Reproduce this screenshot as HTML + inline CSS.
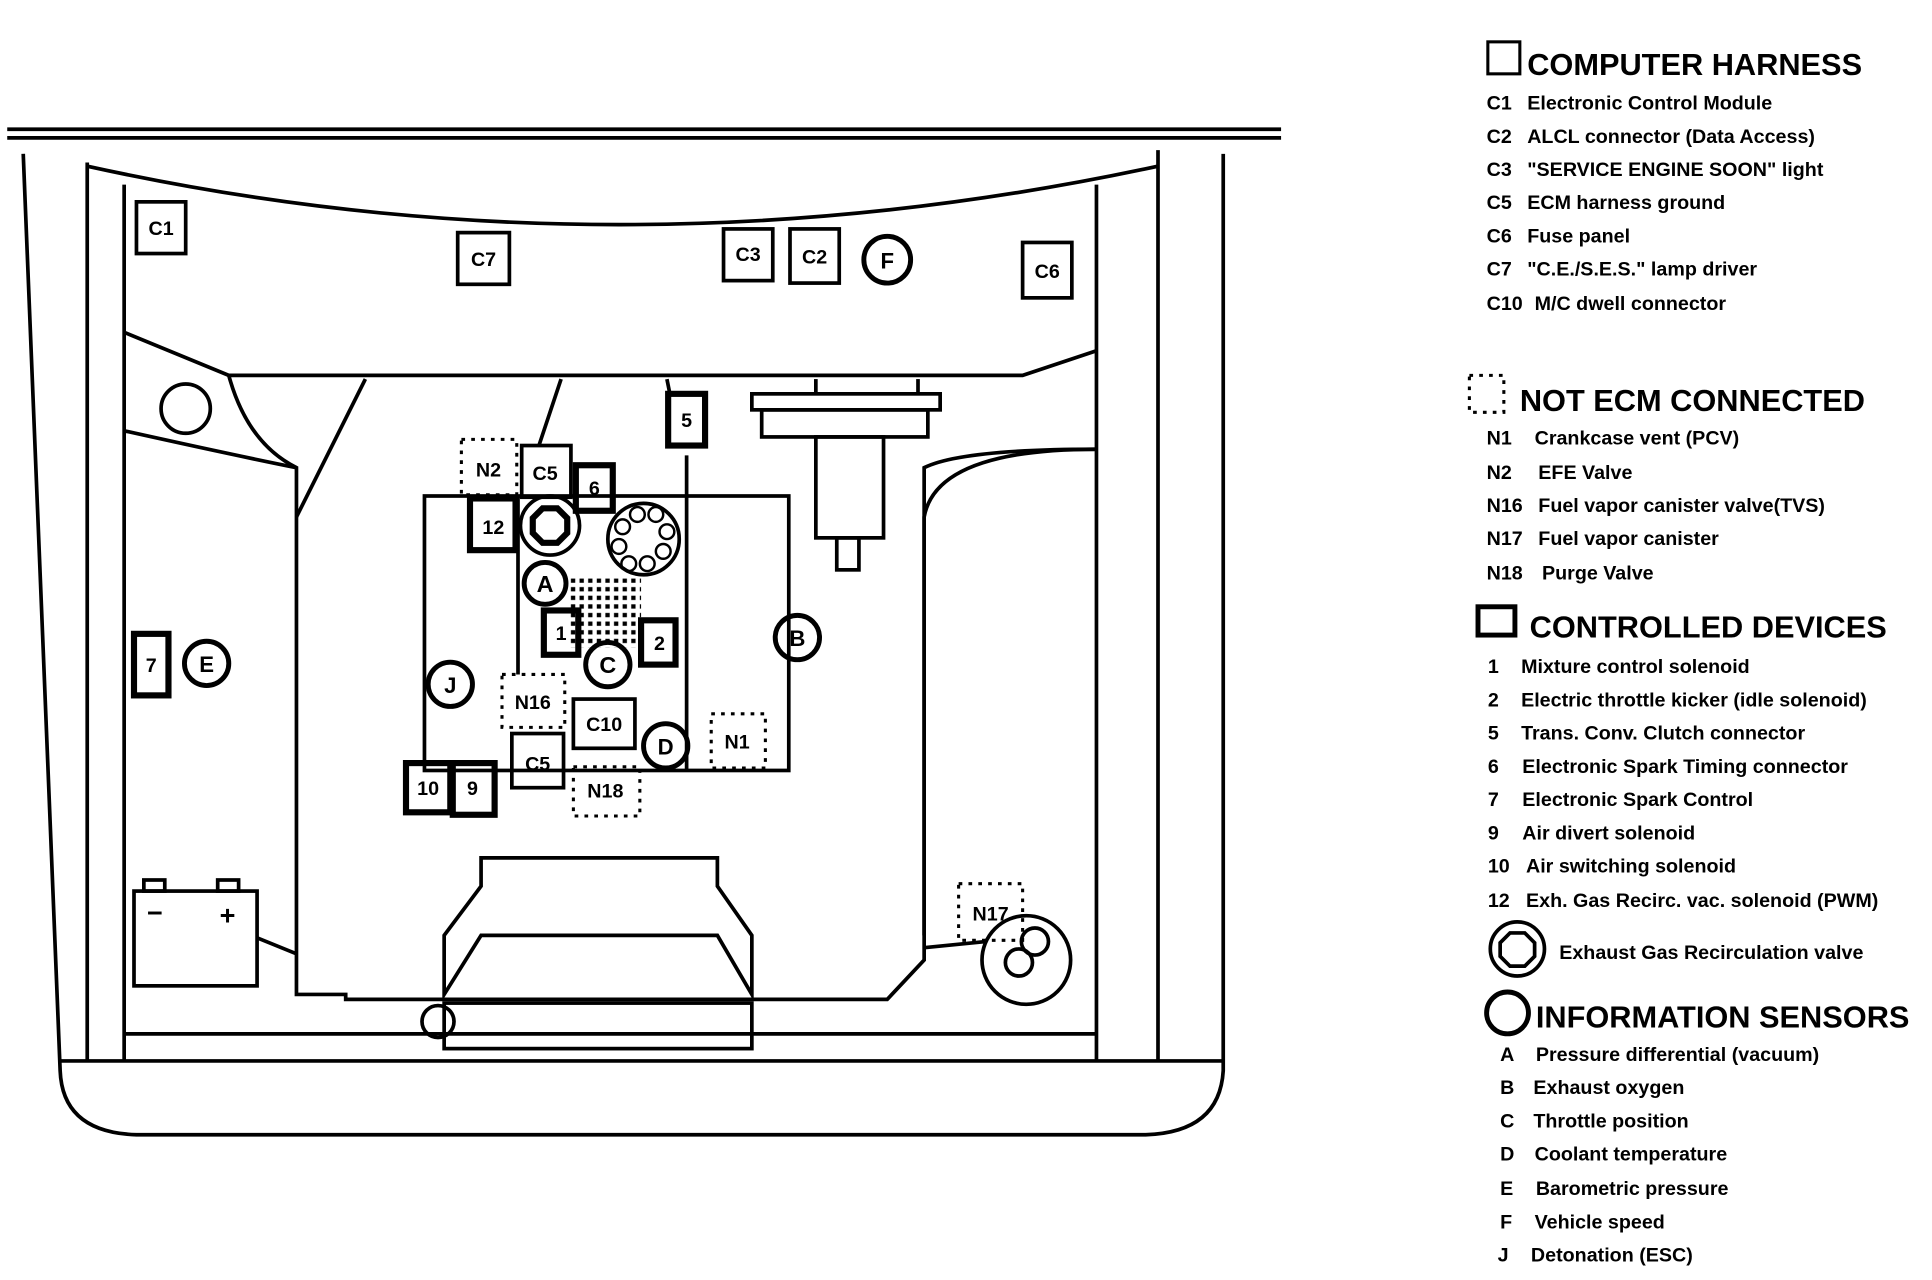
<!DOCTYPE html>
<html><head><meta charset="utf-8"><style>
html,body{margin:0;padding:0;background:#fff;}
svg{display:block;}
text{font-family:"Liberation Sans",sans-serif;font-weight:bold;fill:#000;}
</style></head><body>
<svg width="1932" height="1280" viewBox="0 0 1568 1040" xmlns="http://www.w3.org/2000/svg">
<g fill="none" stroke="#000" stroke-width="3">
<line x1="5" y1="105" x2="1040" y2="105"/>
<line x1="5" y1="112" x2="1040" y2="112"/>
<path d="M18 125 L48 870 Q50 920 110 922 L930 922 Q990 920 993 870 L993 125"/>
<line x1="48" y1="862" x2="993" y2="862"/>
<line x1="70" y1="132" x2="70" y2="862"/>
<line x1="940" y1="122" x2="940" y2="862"/>
<line x1="100" y1="150" x2="100" y2="862"/>
<line x1="890" y1="150" x2="890" y2="862"/>
<path d="M70 135 Q500 230 940 135"/>
<path d="M100 270 L185 305 L830 305 L890 285"/>
<line x1="100" y1="840" x2="890" y2="840"/>
<circle cx="150" cy="332" r="20"/>
<path d="M185 305 Q200 360 240 380 L240 808 L280 808 L280 812 L720 812 L750 780 L750 380 Q780 365 890 365"/>
<path d="M100 350 Q190 370 240 380"/>
<path d="M890 365 Q760 365 750 420 L750 760"/>
<path d="M208 762 L240 775 M750 770 L800 765"/>
<line x1="296" y1="308" x2="240" y2="420"/>
<line x1="455" y1="308" x2="437" y2="362"/>
<rect x="344" y="403" width="296" height="223"/>
<line x1="420" y1="403" x2="420" y2="548"/>
<line x1="557" y1="370" x2="557" y2="626"/>
<line x1="541" y1="308" x2="543" y2="318"/>
<rect x="610" y="320" width="153" height="13"/>
<rect x="618" y="333" width="135" height="22"/>
<line x1="662" y1="308" x2="662" y2="320"/><line x1="745" y1="308" x2="745" y2="320"/>
<rect x="662" y="355" width="55" height="82"/>
<rect x="679" y="437" width="18" height="26"/>
<path d="M390 697 L582 697 L582 720 L610 760 L610 808 L582 760 L390 760 L360 808 L360 760 L390 720 Z M360 760 L390 720 M582 720 L610 760"/>
<rect x="360" y="815" width="250" height="37"/>
<circle cx="355" cy="830" r="13"/>
<circle cx="833" cy="780" r="36"/>
<circle cx="827" cy="782" r="11"/><circle cx="840" cy="765" r="11"/>
<rect x="108" y="724" width="100" height="77"/>
<rect x="116" y="715" width="17" height="9"/><rect x="176" y="715" width="17" height="9"/>
<circle cx="446" cy="427" r="24"/>
<polygon points="440,413 452,413 460,421 460,433 452,441 440,441 432,433 432,421" stroke-width="5"/>
<circle cx="522" cy="438" r="29"/>
</g>
<g fill="none" stroke="#000" stroke-width="2">
<circle cx="517" cy="418" r="6"/><circle cx="532" cy="418" r="6"/><circle cx="541" cy="432" r="6"/><circle cx="538" cy="448" r="6"/><circle cx="525" cy="458" r="6"/><circle cx="510" cy="458" r="6"/><circle cx="502" cy="444" r="6"/><circle cx="505" cy="428" r="6"/>
</g>
<g fill="none" stroke="#000" stroke-width="3">
<rect x="110" y="164" width="40" height="42"/>
<rect x="371" y="189" width="42" height="42"/>
<rect x="587" y="186" width="40" height="42"/>
<rect x="641" y="186" width="40" height="44"/>
<rect x="830" y="197" width="40" height="45"/>
<rect x="423" y="362" width="40" height="42"/>
<rect x="465" y="568" width="50" height="40"/>
<rect x="415" y="596" width="42" height="44"/>
</g>
<g fill="none" stroke="#000" stroke-width="5">
<rect x="542" y="320" width="30" height="42"/>
<rect x="467" y="378" width="30" height="37"/>
<rect x="381" y="405" width="37" height="42"/>
<rect x="441" y="496" width="28" height="36"/>
<rect x="520" y="504" width="28" height="36"/>
<rect x="108" y="515" width="28" height="50"/>
<rect x="329" y="620" width="36" height="40"/>
<rect x="367" y="620" width="34" height="42"/>
<circle cx="720" cy="211" r="19" stroke-width="4"/>
<circle cx="442" cy="474" r="17" stroke-width="4"/>
<circle cx="493" cy="540" r="18" stroke-width="4"/>
<circle cx="540" cy="606" r="18" stroke-width="4"/>
<circle cx="647" cy="518" r="18" stroke-width="4"/>
<circle cx="365" cy="556" r="18" stroke-width="4"/>
<circle cx="167" cy="539" r="18" stroke-width="4"/>
</g>
<g fill="none" stroke="#000" stroke-width="2.5" stroke-dasharray="3,5">
<rect x="374" y="357" width="45" height="45"/>
<rect x="407" y="548" width="51" height="43"/>
<rect x="577" y="580" width="44" height="44"/>
<rect x="465" y="623" width="54" height="40"/>
<rect x="778" y="718" width="52" height="46"/>
<rect x="1193" y="305" width="28" height="30"/>
</g>
<g fill="#000">
<pattern id="dp" width="7" height="7" patternUnits="userSpaceOnUse"><rect x="1" y="1" width="3.5" height="3.5"/></pattern>
<rect x="460" y="470" width="60" height="56" fill="url(#dp)"/>
</g>
<g font-size="16" text-anchor="middle">
<text x="130" y="191">C1</text><text x="392" y="216">C7</text><text x="607" y="212">C3</text><text x="661" y="214">C2</text><text x="850" y="226">C6</text>
<text x="720" y="218" font-size="18">F</text>
<text x="557" y="347">5</text><text x="396" y="387">N2</text><text x="442" y="390">C5</text><text x="482" y="402">6</text>
<text x="400" y="434">12</text><text x="442" y="481" font-size="19">A</text><text x="455" y="520">1</text><text x="535" y="528">2</text>
<text x="493" y="547" font-size="19">C</text><text x="647" y="525" font-size="18">B</text><text x="365" y="563" font-size="18">J</text>
<text x="432" y="576">N16</text><text x="490" y="594">C10</text><text x="540" y="613" font-size="18">D</text><text x="598" y="608">N1</text>
<text x="436" y="626">C5</text><text x="491" y="648">N18</text><text x="347" y="646">10</text><text x="383" y="646">9</text>
<text x="122" y="546">7</text><text x="167" y="546" font-size="18">E</text><text x="804" y="748">N17</text>
<text x="125" y="749" font-size="22">−</text><text x="184" y="751" font-size="22">+</text>
</g>
<rect x="1208" y="34" width="26" height="26" fill="none" stroke="#000" stroke-width="2.5"/>
<rect x="1200" y="493" width="30" height="23" fill="none" stroke="#000" stroke-width="4"/>
<circle cx="1232" cy="771" r="22" fill="none" stroke="#000" stroke-width="3"/>
<polygon points="1226,758 1238,758 1246,766 1246,777 1238,785 1226,785 1218,777 1218,766" fill="none" stroke="#000" stroke-width="3"/>
<circle cx="1224" cy="823" r="17" fill="none" stroke="#000" stroke-width="4"/>
<g font-size="25">
<text x="1240" y="61">COMPUTER HARNESS</text>
<text x="1234" y="334">NOT ECM CONNECTED</text>
<text x="1242" y="518">CONTROLLED DEVICES</text>
<text x="1247" y="835">INFORMATION SENSORS</text>
</g>
<g font-size="16">
<text x="1207" y="89">C1</text><text x="1240" y="89">Electronic Control Module</text>
<text x="1207" y="116">C2</text><text x="1240" y="116">ALCL connector (Data Access)</text>
<text x="1207" y="143">C3</text><text x="1240" y="143">"SERVICE ENGINE SOON" light</text>
<text x="1207" y="170">C5</text><text x="1240" y="170">ECM harness ground</text>
<text x="1207" y="197">C6</text><text x="1240" y="197">Fuse panel</text>
<text x="1207" y="224">C7</text><text x="1240" y="224">"C.E./S.E.S." lamp driver</text>
<text x="1207" y="252">C10</text><text x="1246" y="252">M/C dwell connector</text>
<text x="1207" y="361">N1</text><text x="1246" y="361">Crankcase vent (PCV)</text>
<text x="1207" y="389">N2</text><text x="1249" y="389">EFE  Valve</text>
<text x="1207" y="416">N16</text><text x="1249" y="416">Fuel vapor canister valve(TVS)</text>
<text x="1207" y="443">N17</text><text x="1249" y="443">Fuel vapor canister</text>
<text x="1207" y="471">N18</text><text x="1252" y="471">Purge Valve</text>
<text x="1208" y="547">1</text><text x="1235" y="547">Mixture control solenoid</text>
<text x="1208" y="574">2</text><text x="1235" y="574">Electric throttle kicker (idle solenoid)</text>
<text x="1208" y="601">5</text><text x="1235" y="601">Trans. Conv. Clutch connector</text>
<text x="1208" y="628">6</text><text x="1236" y="628">Electronic Spark Timing connector</text>
<text x="1208" y="655">7</text><text x="1236" y="655">Electronic Spark Control</text>
<text x="1208" y="682">9</text><text x="1236" y="682">Air divert solenoid</text>
<text x="1208" y="709">10</text><text x="1239" y="709">Air switching solenoid</text>
<text x="1208" y="737">12</text><text x="1239" y="737">Exh. Gas Recirc. vac. solenoid (PWM)</text>
<text x="1266" y="779">Exhaust Gas Recirculation valve</text>
<text x="1218" y="862">A</text><text x="1247" y="862">Pressure differential (vacuum)</text>
<text x="1218" y="889">B</text><text x="1245" y="889">Exhaust oxygen</text>
<text x="1218" y="916">C</text><text x="1245" y="916">Throttle position</text>
<text x="1218" y="943">D</text><text x="1246" y="943">Coolant temperature</text>
<text x="1218" y="971">E</text><text x="1247" y="971">Barometric pressure</text>
<text x="1218" y="998">F</text><text x="1246" y="998">Vehicle speed</text>
<text x="1216" y="1025">J</text><text x="1243" y="1025">Detonation (ESC)</text>
</g>
</svg>
</body></html>
